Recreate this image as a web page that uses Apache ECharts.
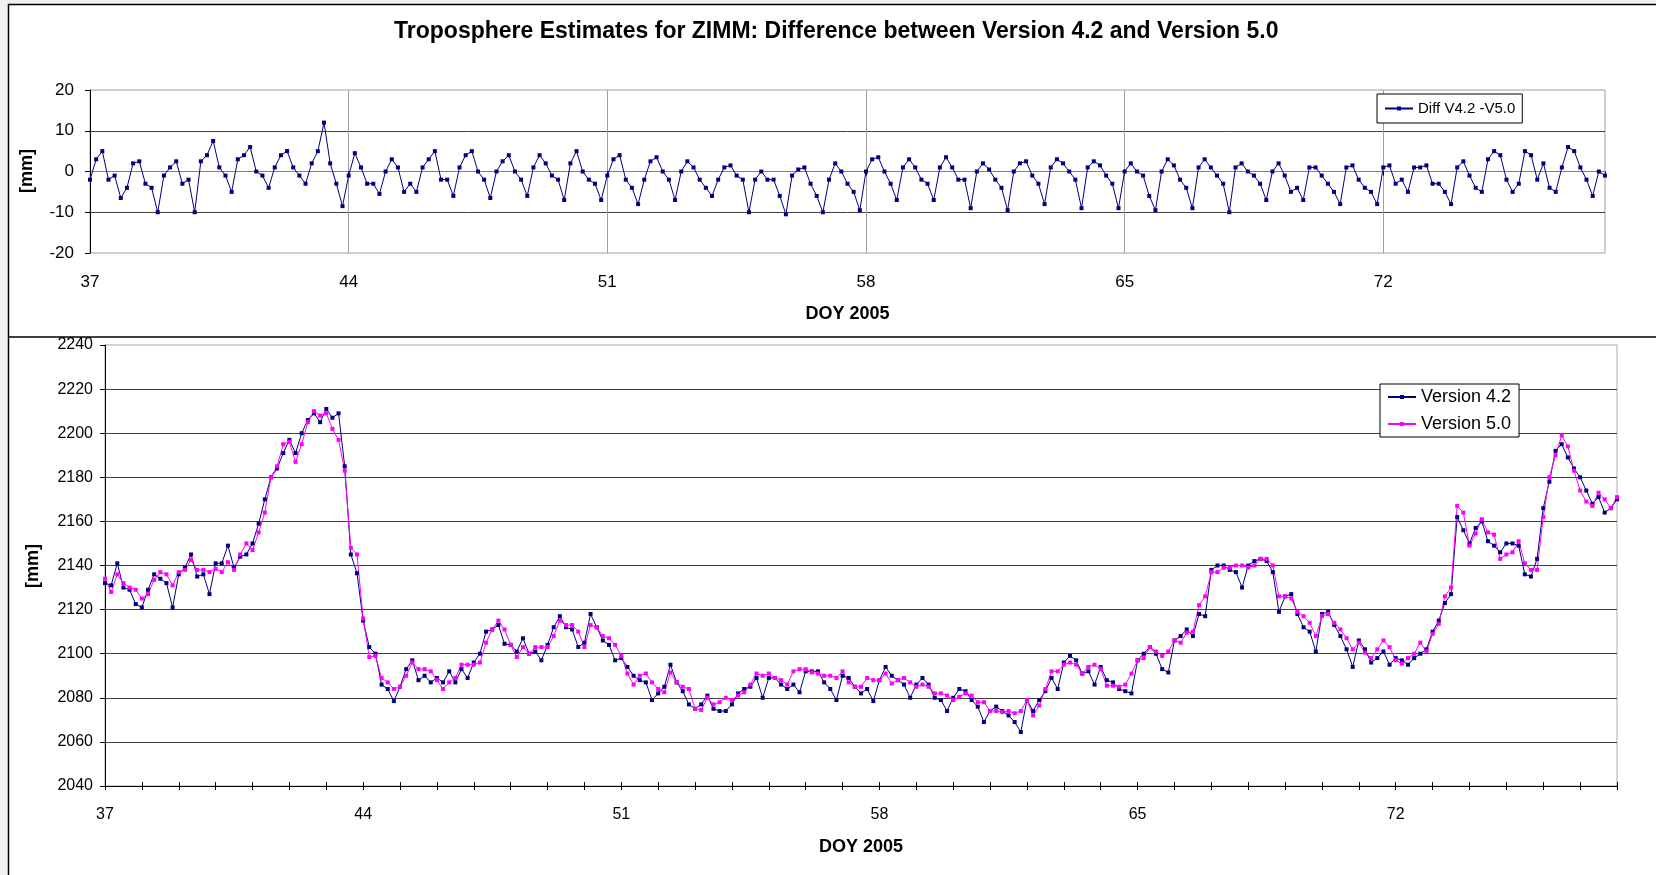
<!DOCTYPE html>
<html>
<head>
<meta charset="utf-8">
<script src="https://cdn.jsdelivr.net/npm/echarts@6/dist/echarts.min.js"></script>
<style>
html,body{margin:0;padding:0;background:#f0f0f0;}
#chart{width:1656px;height:875px;}
</style>
</head>
<body>
<div id="chart"></div>
<script>
// ---------- text ----------
const titleText = 'Troposphere Estimates for ZIMM: Difference between Version 4.2 and Version 5.0';
const xAxisName = 'DOY 2005';
const yAxisName = '[mm]';
const diffName = 'Diff V4.2 -V5.0';
const v42Name = 'Version 4.2';
const v50Name = 'Version 5.0';

// ---------- axes ----------
const startDoy = 37;      // first sample (DOY)
const endDoy = 78;        // axis end (DOY)
const samplesPerDay = 6;  // values below are read every 4 h
const labelStep = 7;      // labelled DOY every 7 days
const diffMin = -20, diffMax = 20, diffStep = 10;
const ztdMin = 2040, ztdMax = 2240, ztdStep = 20;

// ---------- values (one row per day) ----------
const diffValues = [
  -2,3,5,-2,-1,-6.5,
  -4,2,2.5,-3,-4,-10,
  -1,1,2.5,-3,-2,-10,
  2.5,4,7.5,1,-1,-5,
  3,4,6,0,-1,-4,
  1,4,5,1,-1,-3,
  2,5,12,2,-3,-8.5,
  -1,4.5,1,-3,-3,-5.5,
  0,3,1,-5,-3,-5,
  1,3,5,-2,-2,-6,
  1,4,5,0,-2,-6.5,
  0,2.5,4,0,-2,-6,
  1,4,2,-1,-2,-7,
  2,5,0,-2,-3,-7,
  -1,3,4,-2,-4,-8,
  -2,2.5,3.5,0,-2,-7,
  0,2.5,1,-2,-4,-6,
  -2,1,1.5,-1,-2,-10,
  -2,0,-2,-2,-6,-10.5,
  -1,0.5,1,-3,-6,-10,
  -2,2,0,-3,-5,-9.5,
  0,3,3.5,0,-3,-7,
  1,3,1,-2,-3,-7,
  1,3.5,1,-2,-2,-9,
  0,2,0.5,-2,-4,-9.5,
  0,2,2.5,-1,-3,-8,
  1,3,2,0,-2,-9,
  1,2.5,1.5,-1,-3,-9,
  0,2,0,-1,-6,-9.5,
  0,3,1.5,-2,-4,-9,
  1,3,1,-1,-3,-10,
  1,2,0,-1,-3,-7,
  0,2,-1,-5,-4,-7,
  1,1,-1,-3,-5,-8,
  1,1.5,-2,-4,-5,-8,
  1,1.5,-3,-2,-5,1,
  1,1.5,-3,-3,-5,-8,
  1,2.5,-1,-4,-5,3,
  5,4,-2,-5,-3,5,
  4,-2,2,-4,-5,1,
  6,5,1,-2,-6,0,
  -1
];

const v42Values = [
  2132,2131,2141,2130,2129,2122.5,
  2121,2129,2136,2134,2132,2121,
  2136,2139,2145,2135,2136,2127,
  2141,2141,2149,2139,2144,2145,
  2150,2159,2170,2180,2184,2191,
  2197,2191,2200,2206,2209,2205,
  2211,2207,2209,2185,2145,2136.5,
  2115,2103,2100,2086,2084,2078.5,
  2085,2093,2097,2088,2090,2087,
  2089,2087,2092,2087,2093,2089,
  2096,2100,2110,2111,2113,2104.5,
  2104,2101,2107,2100,2101,2097,
  2104,2112,2117,2112,2111,2103,
  2105,2118,2112,2106,2104,2097,
  2098,2094,2090,2088,2087,2079,
  2082,2085,2095,2087,2083,2077,
  2075,2077,2081,2075,2074,2074,
  2077,2082,2084,2085,2089,2080,
  2089,2089,2086,2084,2086,2082.5,
  2092,2092,2092,2087,2084,2079,
  2090,2089,2085,2082,2084,2078.5,
  2088,2094,2090,2088,2086,2080,
  2086,2089,2086,2080,2079,2074,
  2080,2084,2083,2079,2076,2069,
  2074,2076,2074,2072,2069,2064.5,
  2079,2074,2079,2083,2089,2084,
  2096,2099,2097,2091,2092,2086,
  2094,2088,2087,2084,2083,2082,
  2097,2100,2103,2100,2093,2091.5,
  2106,2108,2111,2108,2118,2117,
  2138,2140,2140,2138,2137,2130,
  2140,2142,2143,2142,2137,2119,
  2126,2127,2118,2112,2110,2101,
  2118,2119,2113,2108,2102,2094,
  2106,2102,2096,2098,2101,2095,
  2098,2097,2095,2098,2100,2102,
  2110,2115,2123,2127,2162,2156,
  2150,2157,2160,2151,2149,2146,
  2150,2150,2149,2136,2135,2143,
  2166,2178,2192,2195,2189,2184,
  2180,2174,2168,2171,2164,2166,
  2170
];

const v50Values = [
  2134,2128,2136,2132,2130,2129,
  2125,2127,2133.5,2137,2136,2131,
  2137,2138,2142.5,2138,2138,2137,
  2138.5,2137,2141.5,2138,2145,2150,
  2147,2155,2164,2180,2185,2195,
  2196,2187,2195,2205,2210,2208,
  2209,2202,2197,2183,2148,2145,
  2116,2098.5,2099,2089,2087,2084,
  2085,2090,2096,2093,2093,2092,
  2088,2084,2087,2089,2095,2095,
  2095,2096,2105,2111,2115,2111,
  2104,2098.5,2103,2100,2103,2103,
  2103,2108,2115,2113,2113,2110,
  2103,2113,2112,2108,2107,2104,
  2099,2091,2086,2090,2091,2087,
  2084,2082.5,2091.5,2087,2085,2084,
  2075,2074.5,2080,2077,2078,2080,
  2079,2081,2082.5,2086,2091,2090,
  2091,2089,2088,2086,2092,2093,
  2093,2091.5,2091,2090,2090,2089,
  2092,2087,2085,2085,2089,2088,
  2088,2091,2086.5,2088,2089,2087,
  2085,2086,2085,2082,2082,2081,
  2079,2080.5,2082,2081,2078,2078,
  2074,2074,2073.5,2074,2073,2074,
  2079,2072,2076.5,2084,2092,2092,
  2095,2096,2095,2091,2094,2095,
  2093,2085.5,2085.5,2085,2086,2091,
  2097,2098,2103,2101,2099,2101,
  2106,2105,2109.5,2110,2122,2126,
  2137,2137,2139,2139,2140,2140,
  2139,2140,2143,2143,2140,2126,
  2126,2125,2119,2117,2114,2108,
  2117,2118,2114,2111,2107,2102,
  2105,2100.5,2098,2102,2106,2103,
  2097,2095.5,2098,2100,2105,2101,
  2109,2113.5,2126,2130,2167,2164,
  2149,2154.5,2161,2155,2154,2143,
  2145,2146,2151,2141,2138,2138,
  2162,2180,2190,2199,2194,2183,
  2174,2169,2167,2173,2170,2166,
  2171
];

// ---------- build chart ----------
const FONT = '"Liberation Sans", Arial, sans-serif';
const NAVY = '#000080';
const MAGENTA = '#ff00ff';
const toPairs = arr => arr.map((v, i) => [startDoy + i / samplesPerDay, v]);
const doyLabel = v => ((Math.round(v) - startDoy) % labelStep === 0 && Math.round(v) < endDoy) ? String(Math.round(v)) : '';
const plainNum = v => String(v);

const chart = echarts.init(document.getElementById('chart'), null, {renderer: 'canvas'});

const lineSeries = (name, color, xi, yi, values) => ({
  type: 'line', name, xAxisIndex: xi, yAxisIndex: yi,
  data: toPairs(values),
  symbol: 'rect', symbolSize: 4, showSymbol: true,
  lineStyle: {color, width: 1},
  itemStyle: {color},
  emphasis: {disabled: true},
  animation: false
});

const option = {
  backgroundColor: '#f0f0f0',
  animation: false,
  textStyle: {fontFamily: FONT, color: '#000'},
  title: {
    text: titleText, left: 389, top: 15,
    textStyle: {fontFamily: FONT, fontSize: 23, fontWeight: 'bold', color: '#000'}
  },
  graphic: [
    {type: 'rect', z: -100, silent: true,
     shape: {x: 8.5, y: 4.5, width: 1660, height: 880},
     style: {fill: '#ffffff', stroke: '#000000', lineWidth: 1.5}},
    {type: 'line', z: -99, silent: true,
     shape: {x1: 8, y1: 337, x2: 1656, y2: 337},
     style: {stroke: '#000000', lineWidth: 1.5}},
    {type: 'text', silent: true, x: 27, y: 171, rotation: Math.PI / 2,
     style: {text: yAxisName, font: 'bold 18px ' + FONT, align: 'center', verticalAlign: 'middle', fill: '#000'}},
    {type: 'text', silent: true, x: 33, y: 566, rotation: Math.PI / 2,
     style: {text: yAxisName, font: 'bold 18px ' + FONT, align: 'center', verticalAlign: 'middle', fill: '#000'}}
  ],
  legend: [
    {data: [diffName], left: 1377, top: 94, orient: 'horizontal',
     padding: [7, 7, 7, 7], itemWidth: 28, itemHeight: 5,
     backgroundColor: '#fff', borderColor: '#000', borderWidth: 1,
     textStyle: {fontFamily: FONT, fontSize: 15, color: '#000'}},
    {data: [v42Name, v50Name], left: 1380, top: 384, orient: 'vertical',
     itemGap: 9, padding: [4, 8, 4, 7], itemWidth: 28, itemHeight: 5,
     backgroundColor: '#fff', borderColor: '#000', borderWidth: 1,
     textStyle: {fontFamily: FONT, fontSize: 18, color: '#000'}}
  ],
  grid: [
    {left: 90, top: 90, width: 1515, height: 163, show: true,
     backgroundColor: '#fff', borderColor: '#a0a0a0', borderWidth: 1, containLabel: false},
    {left: 105, top: 345, width: 1512, height: 441, show: true,
     backgroundColor: '#fff', borderColor: '#a8a8a8', borderWidth: 1, containLabel: false}
  ],
  xAxis: [
    {gridIndex: 0, type: 'value', min: startDoy, max: endDoy, interval: labelStep,
     axisLine: {show: true, lineStyle: {color: '#808080', width: 1}},
     axisTick: {show: true, inside: false, length: 4, lineStyle: {color: '#000'}},
     axisLabel: {fontSize: 17, color: '#000', margin: 21, formatter: doyLabel, fontFamily: FONT},
     splitLine: {show: true, showMinLine: false, showMaxLine: false, lineStyle: {color: '#a0a0a0', width: 1}},
     name: xAxisName, nameLocation: 'middle', nameGap: 52,
     nameTextStyle: {fontSize: 18, fontWeight: 'bold', color: '#000', fontFamily: FONT}},
    {gridIndex: 1, type: 'value', min: startDoy, max: endDoy, interval: 1,
     axisLine: {show: true, lineStyle: {color: '#000', width: 1}},
     axisTick: {show: true, inside: false, length: 4, lineStyle: {color: '#000'}},
     axisLabel: {fontSize: 16, color: '#000', margin: 21, formatter: doyLabel, fontFamily: FONT},
     splitLine: {show: false},
     name: xAxisName, nameLocation: 'middle', nameGap: 52,
     nameTextStyle: {fontSize: 18, fontWeight: 'bold', color: '#000', fontFamily: FONT}},
    {gridIndex: 1, type: 'value', min: startDoy, max: endDoy, interval: 1, position: 'bottom',
     axisLine: {show: false},
     axisTick: {show: true, inside: true, length: 4, lineStyle: {color: '#000'}},
     axisLabel: {show: false},
     splitLine: {show: false}}
  ],
  yAxis: [
    {gridIndex: 0, type: 'value', min: diffMin, max: diffMax, interval: diffStep,
     axisLine: {show: true, lineStyle: {color: '#000', width: 1}},
     axisTick: {show: true, inside: false, length: 5, lineStyle: {color: '#000'}},
     axisLabel: {fontSize: 17, color: '#000', margin: 16, fontFamily: FONT, formatter: plainNum},
     splitLine: {show: true, showMinLine: false, showMaxLine: false, lineStyle: {color: '#404040', width: 1}}},
    {gridIndex: 1, type: 'value', min: ztdMin, max: ztdMax, interval: ztdStep,
     axisLine: {show: true, lineStyle: {color: '#000', width: 1}},
     axisTick: {show: true, inside: false, length: 5, lineStyle: {color: '#000'}},
     axisLabel: {fontSize: 16, color: '#000', margin: 12, fontFamily: FONT, formatter: plainNum},
     splitLine: {show: true, showMinLine: false, showMaxLine: false, lineStyle: {color: '#404040', width: 1}}}
  ],
  series: [
    lineSeries(diffName, NAVY, 0, 0, diffValues),
    lineSeries(v42Name, NAVY, 1, 1, v42Values),
    lineSeries(v50Name, MAGENTA, 1, 1, v50Values)
  ]
};

chart.setOption(option);
</script>
</body>
</html>
